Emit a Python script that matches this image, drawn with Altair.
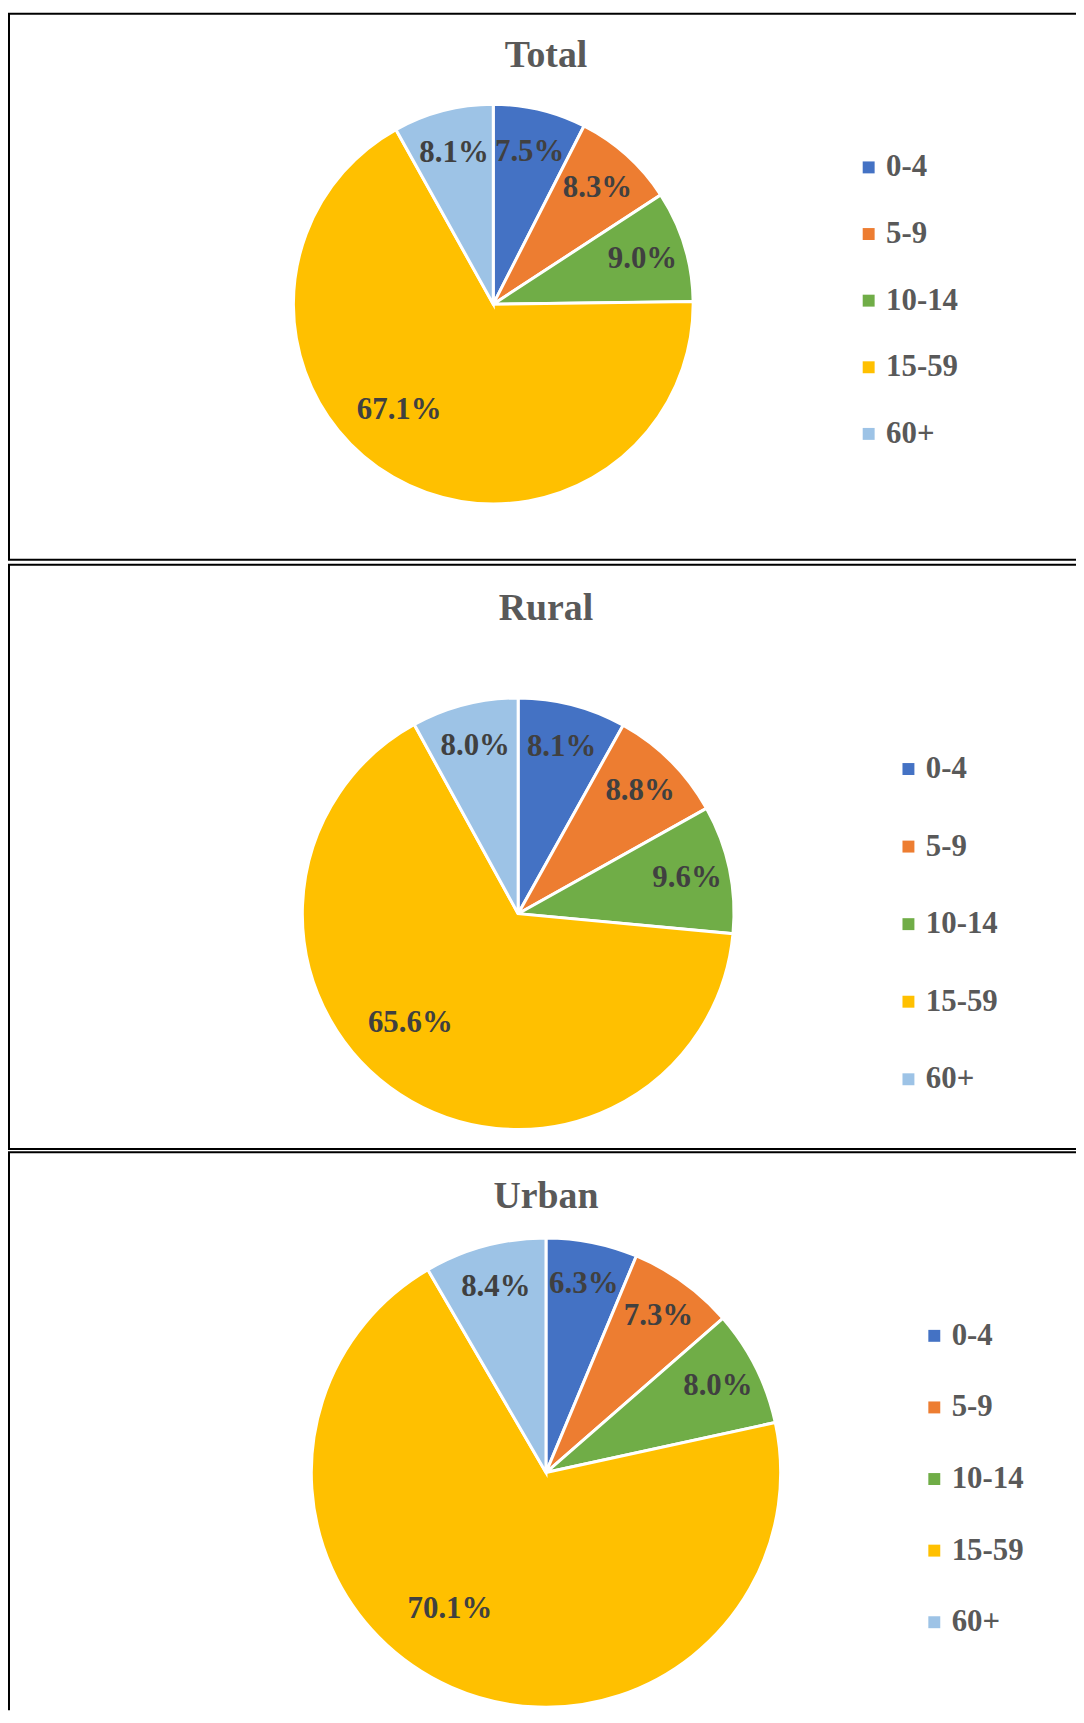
import altair as alt
import pandas as pd

groups = ["0-4", "5-9", "10-14", "15-59", "60+"]
colors = ["#4472C4", "#ED7D31", "#70AD47", "#FFC000", "#9DC3E6"]
total_vals = [7.5, 8.3, 9.0, 67.1, 8.1]
rural_vals = [8.1, 8.8, 9.6, 65.6, 8.0]
urban_vals = [6.3, 7.3, 8.0, 70.1, 8.4]

FONT = "Liberation Serif"
W = 1074
H = 1707


def panel(title, values, top, bottom, cx, cy, r, title_y, leg_x, leg_y, row_pad, lab_r):
    df = pd.DataFrame({
        "group": groups,
        "value": values,
        "idx": list(range(len(groups))),
        "label": [f"{v:.1f}%" for v in values],
    })
    base = alt.Chart(df)
    arcs = base.mark_arc(outerRadius=r, stroke="white", strokeWidth=3).encode(
        theta=alt.Theta("value:Q", stack=True),
        order=alt.Order("idx:Q"),
        color=alt.Color(
            "group:N",
            scale=alt.Scale(domain=groups, range=colors),
            legend=alt.Legend(
                title=None,
                orient="none",
                legendX=leg_x,
                legendY=leg_y,
                symbolType="square",
                symbolSize=144,
                symbolStrokeWidth=0,
                labelFont=FONT,
                labelFontSize=31,
                labelFontWeight="bold",
                labelColor="#595959",
                labelOffset=2,
                rowPadding=row_pad,
            ),
        ),
        x=alt.value(cx),
        y=alt.value(cy),
    )
    small_labels = base.mark_text(
        font=FONT, fontSize=31, fontWeight="bold", color="#404040",
        align="center", baseline="middle",
    ).encode(
        theta=alt.Theta("value:Q", stack=True),
        order=alt.Order("idx:Q"),
        radius=alt.value(r * lab_r),
        text=alt.condition(alt.datum.value < 50, "label:N", alt.value("")),
        x=alt.value(cx),
        y=alt.value(cy),
    )
    big_label = base.mark_text(
        font=FONT, fontSize=31, fontWeight="bold", color="#404040",
        align="center", baseline="middle", thetaOffset=0.2,
    ).encode(
        theta=alt.Theta("value:Q", stack=True),
        order=alt.Order("idx:Q"),
        radius=alt.value(r * 0.71),
        text=alt.condition(alt.datum.value >= 50, "label:N", alt.value("")),
        x=alt.value(cx),
        y=alt.value(cy),
    )
    ttl = alt.Chart(pd.DataFrame({"t": [title]})).mark_text(
        font=FONT, fontSize=38, fontWeight="bold", color="#595959",
        align="center", baseline="alphabetic",
    ).encode(text="t:N", x=alt.value(541), y=alt.value(title_y))

    frame = alt.Chart(pd.DataFrame({"d": [0]})).mark_rule(color="black", strokeWidth=2)
    layers = [
        arcs, small_labels, big_label, ttl,
        frame.encode(x=alt.value(0), x2=alt.value(W), y=alt.value(top)),
        frame.encode(x=alt.value(1), y=alt.value(top), y2=alt.value(bottom)),
    ]
    if bottom < H:
        layers.append(frame.encode(x=alt.value(0), x2=alt.value(W), y=alt.value(bottom)))
    return layers


layers = []
layers += panel("Total", total_vals, 1, 550, 488, 293, 201, 55, 850, 140, 35, 0.78)
layers += panel("Rural", rural_vals, 555, 1142.5, 513, 906, 217, 611, 890, 745, 46, 0.8)
layers += panel("Urban", urban_vals, 1146, H, 541, 1468, 236, 1202, 916, 1315, 40, 0.82)

chart = alt.layer(*layers).resolve_scale(
    color="independent", theta="independent"
).properties(
    width=W, height=H, padding=0, autosize=alt.AutoSizeParams(type="none")
).configure_view(stroke=None)

chart.save("out.html", embed_options={"renderer": "svg", "actions": False})
